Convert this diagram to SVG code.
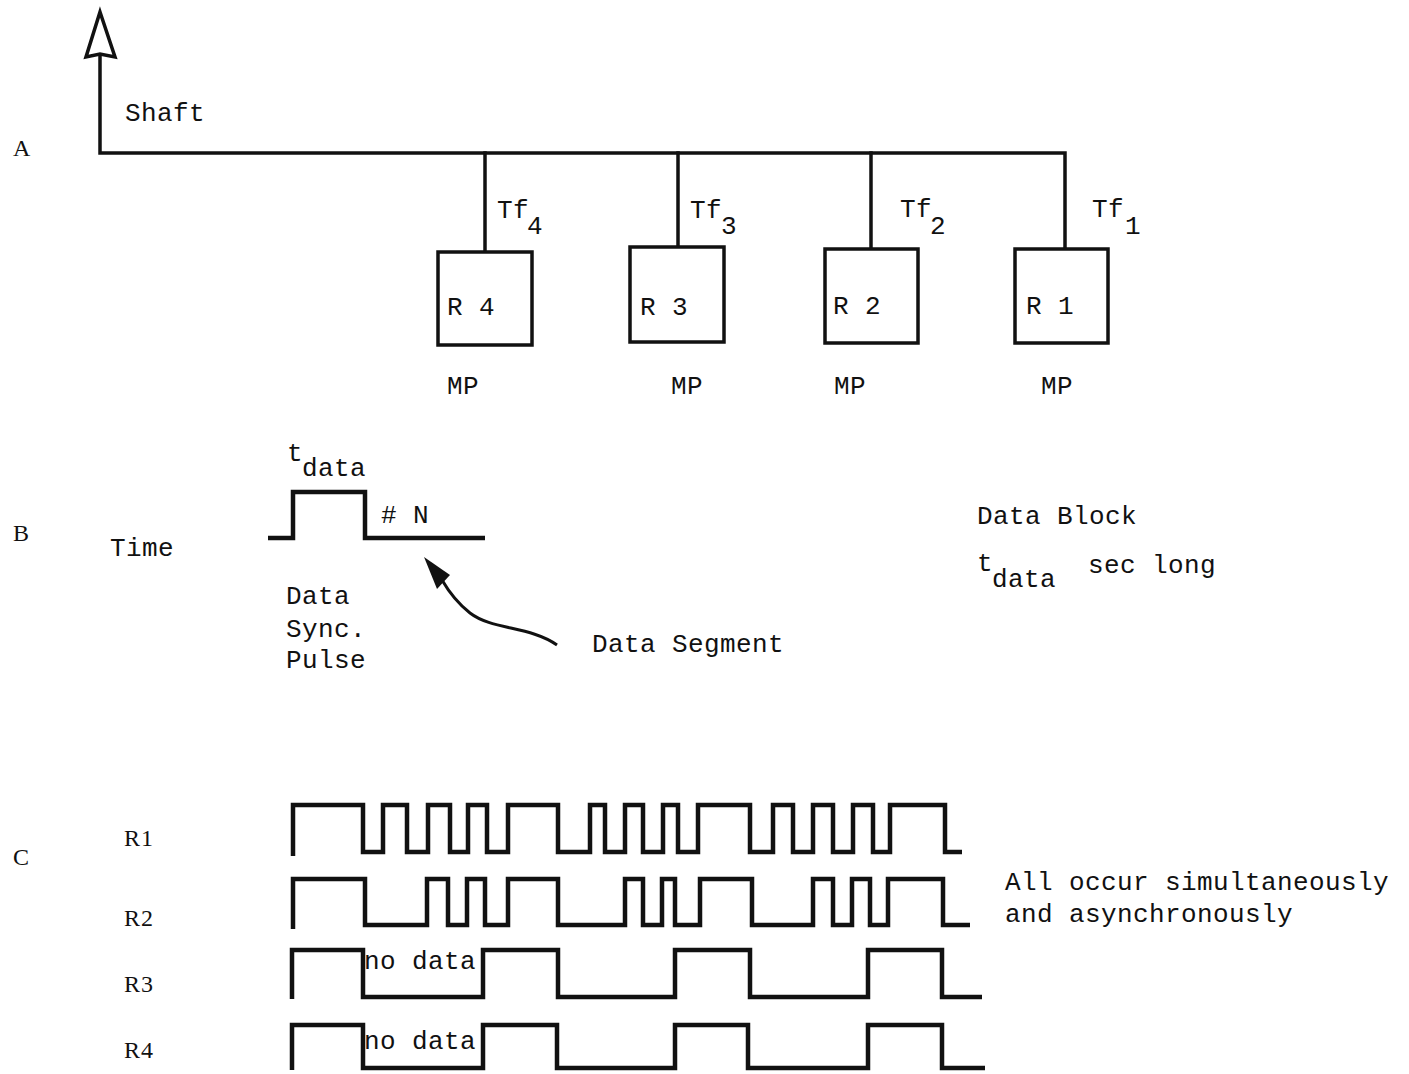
<svg xmlns="http://www.w3.org/2000/svg" width="1409" height="1074" viewBox="0 0 1409 1074">
<style>
text{font-family:"Liberation Mono","DejaVu Sans Mono",monospace;font-size:26px;fill:#111;letter-spacing:0.4px}
.lbl{font-family:"Liberation Serif","DejaVu Serif",serif;font-size:24px;letter-spacing:1px}
.ln{fill:none;stroke:#111;stroke-width:3.5;stroke-linejoin:miter;stroke-linecap:square}
.wave{fill:none;stroke:#111;stroke-width:4.5;stroke-linejoin:miter;stroke-linecap:butt}
.box{fill:#fff;stroke:#111;stroke-width:3.5}
</style>
<rect width="1409" height="1074" fill="#fff"/>

<g id="section-labels">
<text class="lbl" x="13" y="156">A</text>
<text class="lbl" x="13" y="541">B</text>
<text class="lbl" x="13" y="865">C</text>
</g>

<g id="connectors">
<path class="ln" d="M100,57 V153 H1065 V249"/>
<path class="ln" d="M485,153 V252"/>
<path class="ln" d="M678,153 V247"/>
<path class="ln" d="M871,153 V249"/>
<polygon points="100,12 115,57 100,54 86,57" fill="#fff" stroke="#111" stroke-width="3.5" stroke-linejoin="miter"/>
</g>

<g id="shaft"><text x="125" y="121">Shaft</text></g>

<g id="R4">
<rect class="box" x="438" y="252" width="94" height="93"/>
<text x="447" y="315">R 4</text>
<text x="497" y="218">Tf</text><text x="527" y="234">4</text>
<text x="447" y="394">MP</text>
</g>
<g id="R3">
<rect class="box" x="630" y="247" width="94" height="95"/>
<text x="640" y="315">R 3</text>
<text x="690" y="218">Tf</text><text x="721" y="234">3</text>
<text x="671" y="394">MP</text>
</g>
<g id="R2">
<rect class="box" x="825" y="249" width="93" height="94"/>
<text x="833" y="314">R 2</text>
<text x="900" y="217">Tf</text><text x="930" y="234">2</text>
<text x="834" y="394">MP</text>
</g>
<g id="R1">
<rect class="box" x="1015" y="249" width="93" height="94"/>
<text x="1026" y="314">R 1</text>
<text x="1092" y="217">Tf</text><text x="1125" y="234">1</text>
<text x="1041" y="394">MP</text>
</g>

<g id="timing-B">
<text x="287" y="461">t</text><text x="302" y="476">data</text>
<path class="wave" d="M268,538 H293 V492 H365 V538 H485"/>
<text x="381" y="523">#</text><text x="413" y="523">N</text>
<text x="110" y="556">Time</text>
<text x="286" y="604">Data</text>
<text x="286" y="637">Sync.</text>
<text x="286" y="668">Pulse</text>
<path d="M557,645 C530,626 492,630 470,613 C456,602 449,592 442,580" fill="none" stroke="#111" stroke-width="3"/>
<polygon points="424,557 450,575 437,589" fill="#111"/>
<text x="592" y="652">Data Segment</text>
<text x="977" y="524">Data Block</text>
<text x="977" y="571">t</text><text x="992" y="587">data</text>
<text x="1088" y="573">sec long</text>
</g>

<g id="timing-C">
<text class="lbl" x="124" y="846">R1</text>
<text class="lbl" x="124" y="926">R2</text>
<text class="lbl" x="124" y="992">R3</text>
<text class="lbl" x="124" y="1058">R4</text>
<path class="wave" d="M293,856 V805 H363 V852 H383 V805 H407 V852 H428 V805 H450 V852 H468 V805 H487 V852 H508 V805 H558 V852 H590 V805 H605 V852 H625 V805 H643 V852 H663 V805 H678 V852 H698 V805 H750 V852 H773 V805 H793 V852 H813 V805 H833 V852 H853 V805 H873 V852 H890 V805 H945 V852 H962"/>
<path class="wave" d="M293,929 V879 H365 V925 H427 V879 H448 V925 H467 V879 H485 V925 H508 V879 H558 V925 H625 V879 H643 V925 H662 V879 H675 V925 H700 V879 H752 V925 H813 V879 H833 V925 H852 V879 H870 V925 H888 V879 H943 V925 H970"/>
<path class="wave" d="M292,999 V950 H363 V997 H483 V950 H558 V997 H675 V950 H750 V997 H868 V950 H942 V997 H982"/>
<path class="wave" d="M292,1070 V1025 H363 V1068 H483 V1025 H557 V1068 H675 V1025 H748 V1068 H868 V1025 H942 V1068 H985"/>
<text x="364" y="969">no data</text>
<text x="364" y="1049">no data</text>
<text x="1005" y="890">All occur simultaneously</text>
<text x="1005" y="922">and asynchronously</text>
</g>
</svg>
